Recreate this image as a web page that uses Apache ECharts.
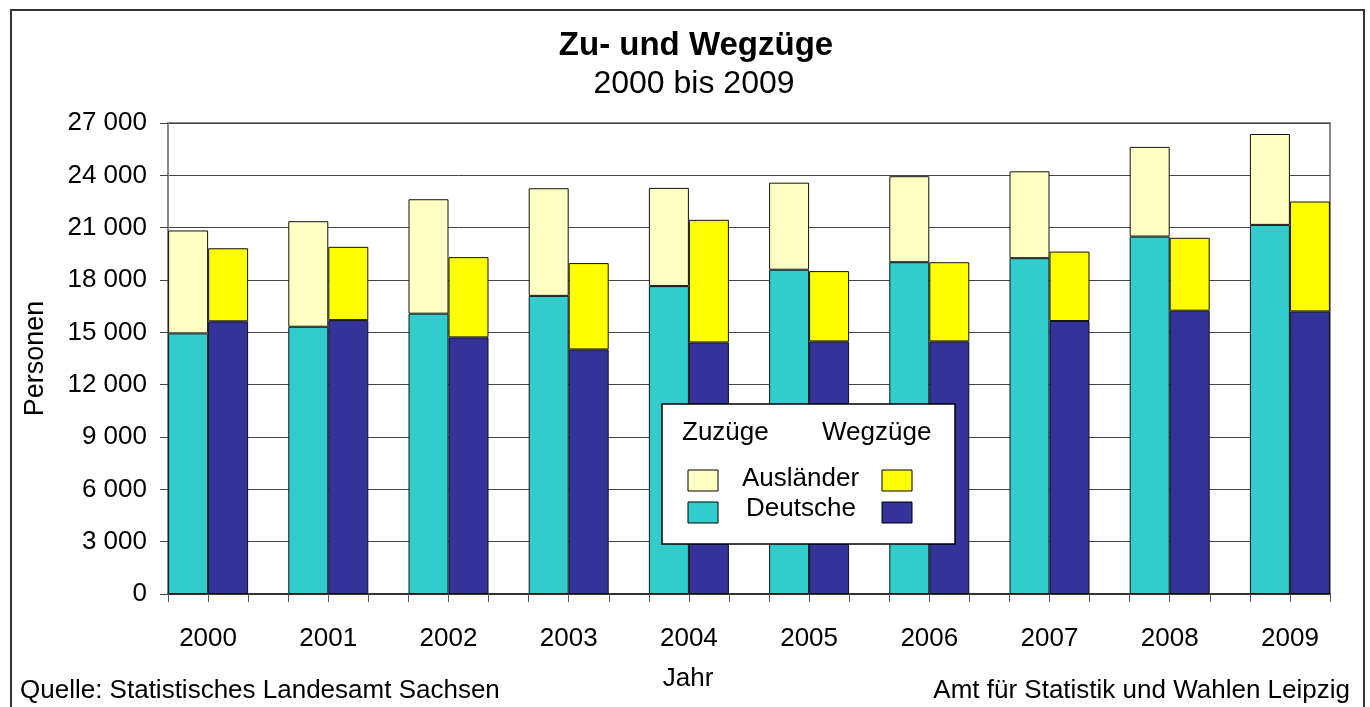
<!DOCTYPE html>
<html lang="de">
<head>
    <meta charset="UTF-8">
    <title>Zu- und Wegzüge</title>
    <script src="https://cdn.jsdelivr.net/npm/echarts@6.0.0/dist/echarts.min.js"></script>
    <style>
        body {
            margin: 0;
            background: #fff;
        }

        #chart {
            width: 1370px;
            height: 707px;
        }
    </style>
</head>
<body>
    <div id="chart"></div>

    <script>
        const years = ['2000', '2001', '2002', '2003', '2004', '2005', '2006', '2007', '2008', '2009']
        // Zuzüge
        const zuDeutsche = [14940, 15320, 16070, 17090, 17650, 18590, 19020, 19250, 20490, 21160]
        const zuAuslaender = [5900, 6050, 6560, 6170, 5630, 4990, 4930, 4980, 5140, 5210]
        // Wegzüge
        const wegDeutsche = [15630, 15700, 14710, 14020, 14420, 14480, 14480, 15650, 16240, 16200]
        const wegAuslaender = [4190, 4200, 4600, 4950, 7030, 4030, 4540, 3980, 4180, 6300]
        const yTicks = [0, 3000, 6000, 9000, 12000, 15000, 18000, 21000, 24000, 27000]

        const font = "'Liberation Sans', Arial, sans-serif"

        function thousands(v) {
            return String(v).replace(/\B(?=(\d{3})+(?!\d))/g, ' ')
        }

        var chart = echarts.init(document.getElementById('chart'))

        // grid 0: visible frame, y axis, gridlines and the tick/label axis (in thirds of a year group)
        // grid 1: same height, 20px wider on each side, carries the bars on a category axis
        var option = {
            animation: false,
            textStyle: { fontFamily: font },
            title: [
                {
                    text: 'Zu- und Wegzüge',
                    left: 691, top: 24, textAlign: 'center',
                    textStyle: { fontFamily: font, fontSize: 33, fontWeight: 'bold', color: '#000' }
                },
                {
                    text: '2000 bis 2009',
                    left: 689, top: 63, textAlign: 'center',
                    textStyle: { fontFamily: font, fontSize: 32, fontWeight: 'normal', color: '#000' }
                }
            ],
            grid: [
                {
                    left: 168, right: 40, top: 123, bottom: 113,
                    show: true, borderColor: '#888', borderWidth: 2
                },
                {
                    left: 148, right: 20, top: 123, bottom: 113
                }
            ],
            xAxis: [
                {
                    type: 'value', gridIndex: 0,
                    min: -1, max: 28, interval: 1,
                    axisLine: { show: true, onZero: false, lineStyle: { color: '#333', width: 2 } },
                    axisTick: { show: true, length: 8, lineStyle: { color: '#555' } },
                    splitLine: { show: false },
                    axisLabel: {
                        margin: 32,
                        fontSize: 26, color: '#000', fontFamily: font,
                        formatter: v => (v % 3 === 0 && v >= 0) ? years[v / 3] : ''
                    }
                },
                {
                    type: 'category', gridIndex: 1,
                    data: years,
                    show: false
                }
            ],
            yAxis: [
                {
                    type: 'value', gridIndex: 0,
                    min: yTicks[0], max: yTicks[yTicks.length - 1], interval: 3000,
                    name: 'Personen',
                    nameLocation: 'middle', nameRotate: 90, nameGap: 119,
                    nameTextStyle: { fontSize: 27, color: '#000', fontFamily: font },
                    axisLine: { show: true, onZero: false, lineStyle: { color: '#888', width: 2 } },
                    axisTick: { show: true, length: 8, lineStyle: { color: '#444' } },
                    splitLine: { show: true, lineStyle: { color: '#444', width: 1 } },
                    axisLabel: {
                        margin: 21,
                        fontSize: 26, color: '#000', fontFamily: font,
                        formatter: thousands
                    }
                },
                {
                    type: 'value', gridIndex: 1,
                    min: yTicks[0], max: yTicks[yTicks.length - 1], interval: 3000,
                    show: false
                }
            ],
            series: [
                {
                    name: 'Zuzüge Deutsche', type: 'bar', stack: 'zu',
                    xAxisIndex: 1, yAxisIndex: 1,
                    barWidth: 40, barGap: '0%',
                    data: zuDeutsche,
                    itemStyle: { color: '#33CCCC', borderColor: '#111', borderWidth: 1 }
                },
                {
                    name: 'Wegzüge Deutsche', type: 'bar', stack: 'weg',
                    xAxisIndex: 1, yAxisIndex: 1,
                    barWidth: 40, barGap: '0%',
                    data: wegDeutsche,
                    itemStyle: { color: '#333399', borderColor: '#111', borderWidth: 1 }
                },
                {
                    name: 'Zuzüge Ausländer', type: 'bar', stack: 'zu',
                    xAxisIndex: 1, yAxisIndex: 1,
                    barWidth: 40, barGap: '0%',
                    data: zuAuslaender,
                    itemStyle: { color: '#FFFFC4', borderColor: '#111', borderWidth: 1 }
                },
                {
                    name: 'Wegzüge Ausländer', type: 'bar', stack: 'weg',
                    xAxisIndex: 1, yAxisIndex: 1,
                    barWidth: 40, barGap: '0%',
                    data: wegAuslaender,
                    itemStyle: { color: '#FFFF00', borderColor: '#111', borderWidth: 1 }
                }
            ],
            graphic: [
                // outer frame
                {
                    type: 'rect', silent: true,
                    shape: { x: 11, y: 10, width: 1353, height: 720 },
                    style: { fill: 'none', stroke: '#333', lineWidth: 2 }
                },
                // legend box
                {
                    type: 'rect', z: 100,
                    shape: { x: 662, y: 404, width: 293, height: 140 },
                    style: { fill: '#fff', stroke: '#000', lineWidth: 1.5 }
                },
                { type: 'text', z: 101, style: { x: 682, y: 433, text: 'Zuzüge', fontSize: 26, fontFamily: font, fill: '#000', verticalAlign: 'middle' } },
                { type: 'text', z: 101, style: { x: 822, y: 433, text: 'Wegzüge', fontSize: 26, fontFamily: font, fill: '#000', verticalAlign: 'middle' } },
                { type: 'text', z: 101, style: { x: 742, y: 479, text: 'Ausländer', fontSize: 26, fontFamily: font, fill: '#000', verticalAlign: 'middle' } },
                { type: 'text', z: 101, style: { x: 746, y: 509, text: 'Deutsche', fontSize: 26, fontFamily: font, fill: '#000', verticalAlign: 'middle' } },
                { type: 'rect', z: 101, shape: { x: 688, y: 470, width: 30, height: 21 }, style: { fill: '#FFFFC4', stroke: '#000', lineWidth: 1 } },
                { type: 'rect', z: 101, shape: { x: 688, y: 502, width: 30, height: 21 }, style: { fill: '#33CCCC', stroke: '#000', lineWidth: 1 } },
                { type: 'rect', z: 101, shape: { x: 882, y: 470, width: 30, height: 21 }, style: { fill: '#FFFF00', stroke: '#000', lineWidth: 1 } },
                { type: 'rect', z: 101, shape: { x: 882, y: 502, width: 30, height: 21 }, style: { fill: '#333399', stroke: '#000', lineWidth: 1 } },
                // axis title and sources
                { type: 'text', style: { x: 688, y: 679, text: 'Jahr', fontSize: 26, fontFamily: font, fill: '#000', align: 'center', verticalAlign: 'middle' } },
                { type: 'text', style: { x: 20, y: 691, text: 'Quelle: Statistisches Landesamt Sachsen', fontSize: 26, fontFamily: font, fill: '#000', verticalAlign: 'middle' } },
                { type: 'text', style: { x: 1350, y: 691, text: 'Amt für Statistik und Wahlen Leipzig', fontSize: 26, fontFamily: font, fill: '#000', align: 'right', verticalAlign: 'middle' } }
            ]
        }

        option && chart.setOption(option)
    </script>
</body>
</html>
